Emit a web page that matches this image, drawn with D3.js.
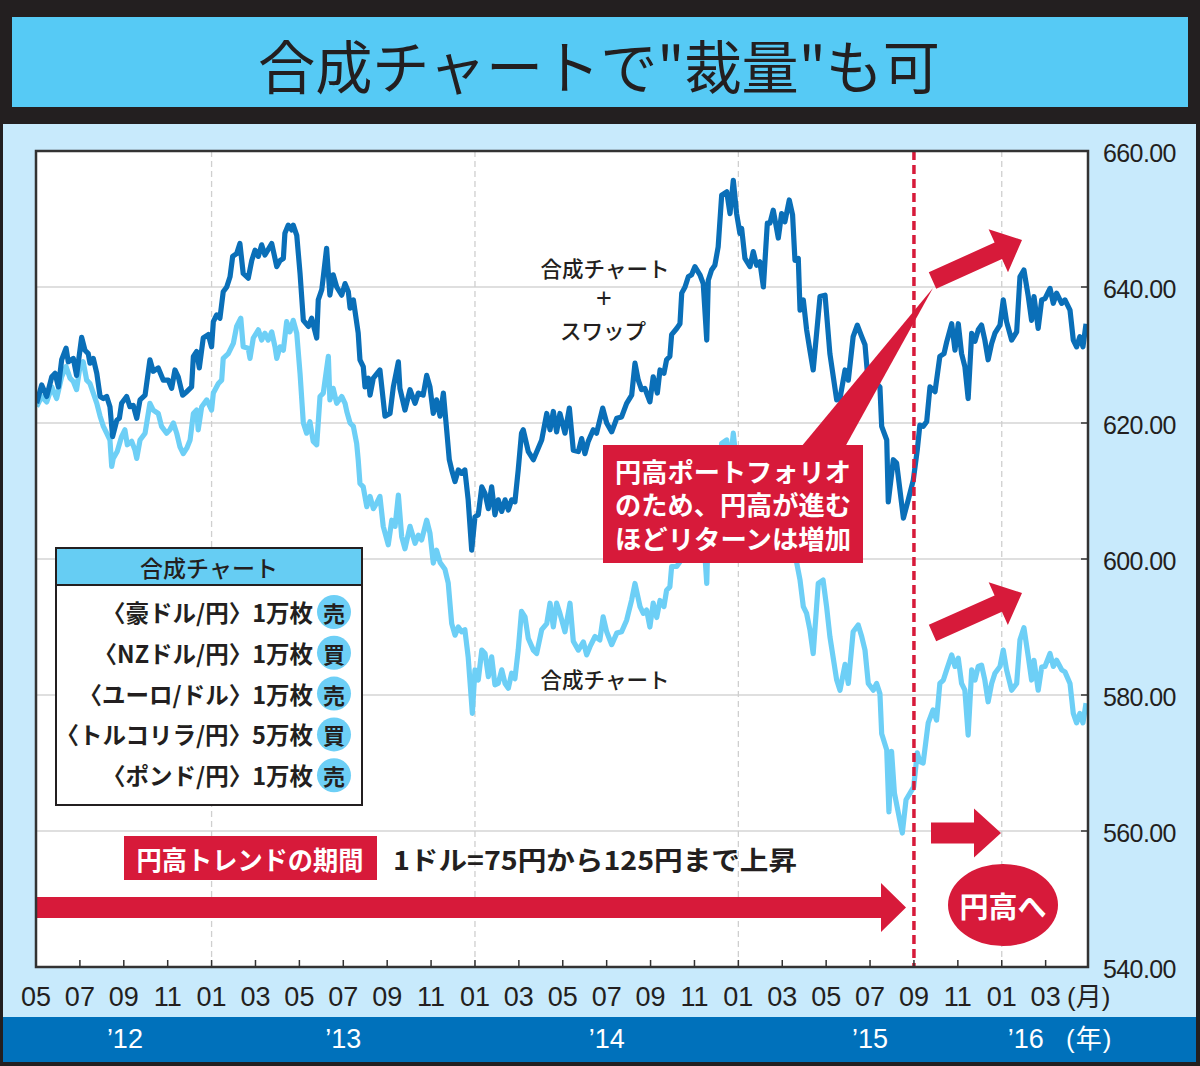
<!DOCTYPE html>
<html><head><meta charset="utf-8">
<script src="https://cdn.jsdelivr.net/npm/d3@7"></script>
<style>body{margin:0;background:#231f20}svg{display:block}</style>
</head><body>
<svg id="c" width="1200" height="1066"></svg>
<script>
// ---------- DATA ----------
const title = '合成チャートで"裁量"も可';
// x = months since May 2012 (0 = 2012-05)
const monthTicks = [0,2,4,6,8,10,12,14,16,18,20,22,24,26,28,30,32,34,36,38,40,42,44,46];
const monthLabels = ["05","07","09","11","01","03","05","07","09","11","01","03","05","07","09","11","01","03","05","07","09","11","01","03"];
const yearLabels = ["’12","’13","’14","’15","’16"];
const yearLabelMonths = [4.05,14,26,38,45.1];
const januaryMonths = [8,20,32,44];
const yTicks = [540,560,580,600,620,640,660];
const yTickLabels = ["540.00","560.00","580.00","600.00","620.00","640.00","660.00"];
const eventMonth = 40; // 2015-09

// 合成チャート＋スワップ (dark)
const darkMonths = [0.03,0.26,0.49,0.72,0.87,1.02,1.17,1.37,1.47,1.70,1.85,2.08,2.23,2.38,2.46,2.61,2.77,2.92,3.07,3.22,3.37,3.49,3.68,3.80,3.90,4.13,4.28,4.43,4.59,4.74,4.97,5.19,5.34,5.57,5.80,6.03,6.18,6.33,6.48,6.68,6.87,7.09,7.17,7.32,7.44,7.62,7.85,8.00,8.08,8.23,8.38,8.53,8.69,8.84,8.96,9.14,9.29,9.44,9.67,9.83,9.98,10.13,10.28,10.43,10.74,10.97,11.12,11.27,11.34,11.49,11.65,11.72,11.88,12.03,12.18,12.41,12.56,12.79,12.86,13.02,13.09,13.24,13.32,13.39,13.54,13.70,13.93,14.08,14.23,14.31,14.46,14.68,14.76,14.91,14.99,15.14,15.22,15.37,15.67,15.90,16.13,16.28,16.51,16.58,16.81,17.04,17.27,17.42,17.64,17.80,17.95,18.10,18.25,18.41,18.56,18.71,18.83,18.94,19.09,19.24,19.39,19.54,19.69,19.85,20.00,20.15,20.31,20.46,20.61,20.76,20.91,21.06,21.22,21.37,21.52,21.67,21.82,21.97,22.12,22.20,22.43,22.66,23.04,23.27,23.42,23.57,23.72,23.87,24.10,24.30,24.48,24.71,24.86,25.01,25.16,25.39,25.54,25.82,26.00,26.23,26.46,26.68,26.91,27.14,27.29,27.44,27.59,27.74,27.97,28.12,28.31,28.43,28.61,28.73,28.88,28.96,29.19,29.34,29.42,29.57,29.72,29.87,30.02,30.25,30.40,30.56,30.63,30.78,30.93,31.08,31.24,31.47,31.62,31.77,31.92,32.07,32.15,32.30,32.53,32.68,32.83,32.98,33.14,33.32,33.44,33.59,33.82,33.97,34.12,34.32,34.47,34.58,34.73,34.81,34.96,35.11,35.26,35.41,35.72,35.95,36.17,36.48,36.63,36.86,37.01,37.23,37.42,37.62,37.77,37.92,38.30,38.45,38.53,38.76,38.83,39.06,39.21,39.52,39.74,39.97,40.15,40.27,40.42,40.58,40.73,40.96,41.18,41.37,41.49,41.72,41.87,42.02,42.17,42.32,42.47,42.63,42.78,42.93,43.08,43.23,43.38,43.54,43.69,43.92,44.07,44.22,44.45,44.68,44.83,45.01,45.21,45.36,45.47,45.66,45.82,45.97,46.20,46.35,46.50,46.73,46.88,47.11,47.26,47.41,47.56,47.70,47.84];
const darkValues = [622.9,625.6,623.9,626.8,627.3,625.3,629.3,631,629,629.5,627,632.6,630.7,630.2,628.8,629.5,627.3,623.9,623.6,623.9,622.4,618,620.4,620.7,622.9,623.9,622.4,622.6,620.7,623.4,624.1,629.3,627.6,628.1,626.3,626.3,625.1,627.8,626.8,624.1,624.6,625.3,629.8,630.5,628.1,632.5,633,631.2,634.9,635.9,635.4,639.3,640,641.5,644.5,644.9,646.4,642,641.3,643.9,645.4,644.5,646.2,644.7,646.4,643,643.9,644.2,647.9,649.1,648.4,649.1,647.6,642,635.1,634.2,635.4,632.5,638.1,639.6,641.5,645.7,642,638.8,641.8,640,638.8,640.5,639.3,636.9,638.1,633.2,629.3,628.3,625.3,626.6,624.1,626.6,627.8,621,621.4,625.3,629,625.1,621.9,624.9,622.9,624.4,624.1,627,625.3,621.4,623.4,621,624.4,619,614.6,613.1,611.4,613.1,612.6,613.1,608.7,601.3,606.2,606.5,610.6,609.6,607.4,610.6,606.5,608.7,607,608.7,607.2,608.7,608.4,613.1,618.5,619,615.8,614.6,617.5,621.4,619,621.7,618.7,621.4,618.5,622.2,616,615.8,617.7,615.5,617.3,619,618.5,622.2,620,618.7,620.7,620.9,622.9,624.1,628.8,626.3,624.9,625.1,623.1,626.8,624.4,627.8,627.3,629.3,629.8,633,633.9,634.6,639.1,640,641.5,641.8,643,641.8,640.5,632.2,641,642.5,643.2,645.9,653.5,654,650.8,655.7,650.8,647.9,648.6,644.2,643,645.2,643.2,643.7,640,649.4,649.4,651.3,647.2,650.8,649.6,652.8,650.6,643.9,644.2,636.6,638.1,633.7,630.7,627.8,638.6,638.8,630.2,623.4,623.6,627.8,626.3,632.7,634.4,632.7,631.5,625.8,625.8,625.3,619.5,617.5,608.4,614.6,614.1,606,608.7,611.6,616,619.7,619.5,620.2,625.3,624.6,629.8,630.2,631.9,634.6,630.7,634.6,630.2,628.3,623.6,633.2,632,633.7,634.4,632.2,629.3,631.7,633.2,634.4,638.1,634.9,632.2,633.4,641.5,642.5,638.6,635.1,638.6,633.9,638.1,638.3,639.8,637.6,639.1,637.6,638.1,636.6,632.2,631.2,632.7,631.2,634.6];

// 合成チャート (light)
const lightMonths = [0.03,0.26,0.49,0.72,0.94,1.17,1.37,1.55,1.70,1.85,2.00,2.15,2.31,2.46,2.61,2.77,2.92,3.07,3.22,3.37,3.45,3.52,3.70,3.90,4.05,4.16,4.36,4.51,4.59,4.74,4.97,5.19,5.34,5.57,5.72,5.95,6.10,6.26,6.41,6.56,6.71,6.87,7.02,7.17,7.32,7.39,7.55,7.78,8.00,8.08,8.31,8.46,8.53,8.76,8.99,9.14,9.33,9.44,9.67,9.75,9.90,10.13,10.28,10.43,10.58,10.74,10.89,10.97,11.12,11.27,11.42,11.57,11.72,11.88,12.03,12.18,12.33,12.48,12.63,12.79,12.94,13.09,13.17,13.32,13.39,13.54,13.70,13.93,14.08,14.16,14.31,14.46,14.61,14.68,14.76,14.91,15.07,15.22,15.37,15.52,15.67,15.82,16.05,16.21,16.36,16.51,16.66,16.81,17.04,17.27,17.42,17.57,17.80,17.95,18.10,18.25,18.41,18.63,18.78,18.94,19.09,19.24,19.39,19.54,19.69,19.88,20.00,20.15,20.31,20.46,20.61,20.76,20.91,21.06,21.22,21.37,21.52,21.67,21.82,21.97,22.12,22.28,22.43,22.66,22.81,23.04,23.27,23.42,23.57,23.72,23.87,24.10,24.33,24.48,24.71,24.94,25.09,25.24,25.47,25.69,25.84,26.00,26.23,26.46,26.68,26.91,27.14,27.29,27.52,27.67,27.82,27.97,28.12,28.28,28.43,28.61,28.73,28.88,28.96,29.19,29.34,29.42,29.57,29.72,29.87,30.02,30.25,30.40,30.56,30.63,30.78,30.93,31.08,31.24,31.47,31.62,31.77,31.92,32.07,32.15,32.30,32.53,32.68,32.83,32.98,33.14,33.32,33.44,33.59,33.82,33.97,34.12,34.32,34.47,34.58,34.66,34.81,34.96,35.11,35.26,35.41,35.64,35.86,36.02,36.17,36.48,36.63,36.86,37.01,37.23,37.46,37.62,37.77,37.92,38.15,38.30,38.45,38.53,38.76,38.86,38.98,39.11,39.47,39.64,39.99,40.15,40.27,40.42,40.65,40.87,41.03,41.18,41.34,41.49,41.72,41.87,42.02,42.17,42.32,42.47,42.63,42.78,42.93,43.08,43.23,43.38,43.54,43.69,43.92,44.07,44.22,44.45,44.68,44.83,45.01,45.21,45.36,45.47,45.66,45.82,45.97,46.20,46.35,46.50,46.73,46.88,47.11,47.26,47.41,47.56,47.70,47.84];
const lightValues = [622.4,623.9,623.1,625.3,623.6,626.8,628.3,626.6,626.1,624.9,628.3,629,626.3,625.8,624.4,622.9,621,619.5,618.5,617.5,613.6,614.8,615.8,618,619,616.8,617.3,616,614.8,617.5,618.5,622.9,621.9,621.4,619.5,618.5,619,620,618.5,616.5,615.5,616.3,617.5,621.4,621.9,619,622.4,623.4,621.9,624.4,625.8,626.3,629.5,630.2,631.7,634.2,635.4,631.2,631,629.5,632.5,633.7,632.2,633.2,632.2,633.4,631.2,629.5,631.2,630.7,634.9,633.4,635.1,633.2,627.3,620,618.5,620.2,617.3,616.8,623.9,624.4,626.3,629.8,623.4,625.1,622.9,623.9,622.9,621.7,620,619.5,617,614.6,611.1,610.6,607.7,609.2,607.4,608.2,609.2,604.8,602.1,605.7,604.8,609.4,603.3,601.5,604.8,602.3,603.5,602.8,605.7,603.8,599.4,601.3,599.5,598.5,596.5,590.5,588.8,590,589.3,589.6,585.6,577.3,583.7,582.2,586.6,586.1,582.7,585.6,581.5,581.7,583.7,581.7,581,583.2,582.4,586.6,592.3,591.5,588.3,586.6,586.1,589.6,590.5,593.5,590,593.5,592,589.3,593.5,587.9,586.6,587.8,585.9,587.1,588.6,588.1,591.5,589.3,587.4,589.1,589.3,591,594,596.4,593,592,592.5,590,593.5,591.4,593.9,593,595.4,595.9,598.9,598.9,599.6,604.1,605,606,606.3,607.5,606.3,604.5,596.4,605,606.5,607.2,609.9,617,617.5,613.8,618.5,613.8,610.9,611.6,607,605.8,608,606,606.5,602.8,612.2,612,613.8,609.5,613,611.8,614.8,612.5,604,599.4,596.9,593,592,589.6,586.1,596.4,596.9,593,588.6,582.2,580.7,584.5,581.7,589.3,590.3,588.6,586.6,581.7,580.7,581.7,580.2,574.3,571.9,562.8,571.7,565.6,559.7,564.6,566.5,571.5,570.2,570,575.9,577.8,576.3,581.7,582.2,583.7,585.9,584.2,585.4,581.7,580.7,574.1,583.7,582.2,584.2,584.4,582.2,579,581.7,583.2,584.2,586.6,583.7,580.7,581.7,588.1,589.9,585.6,582.2,585.1,580.7,584.1,584.2,586.1,584.2,585.1,583.7,583.4,581.7,577.3,575.9,577.3,575.9,578.8];

const legendTitle = "合成チャート";
const legendPairs = ["〈豪ドル/円〉1万枚","〈NZドル/円〉1万枚","〈ユーロ/ドル〉1万枚","〈トルコリラ/円〉5万枚","〈ポンド/円〉1万枚"];
const legendSides = ["売","買","売","買","売"];
const boxLines = ["円高ポートフォリオ","のため、円高が進む","ほどリターンは増加"];

// ---------- DRAW ----------
const JP = "'Noto Sans CJK JP','Noto Sans',sans-serif";
const NUM = "'Liberation Sans Narrow','Liberation Sans',Arial,sans-serif";
const RED = "#d71a3a", DARK = "#0a6fb8", LIGHT = "#6dcff6", INK = "#231f20";
const svg = d3.select("#c");
const L = 36, R = 1088, T = 151, B = 967;
const x = d3.scaleLinear().domain([0, 47.93]).range([L, R]);
const y = d3.scaleLinear().domain([540, 660]).range([B, T]);

svg.append("rect").attr("width",1200).attr("height",1066).attr("fill",INK);
svg.append("rect").attr("x",12).attr("y",17).attr("width",1176).attr("height",90).attr("fill","#56caf5");
svg.append("text").attr("x",599).attr("y",64).attr("text-anchor","middle").attr("dominant-baseline","central")
  .attr("font-family",JP).attr("font-size",58).attr("fill",INK)
  .attr("textLength",682).attr("lengthAdjust","spacingAndGlyphs").text(title);
svg.append("rect").attr("x",3).attr("y",124).attr("width",1193).attr("height",893).attr("fill","#c8eafc");
svg.append("rect").attr("x",3).attr("y",1017).attr("width",1193).attr("height",45).attr("fill","#0071bb");
svg.append("rect").attr("x",L).attr("y",T).attr("width",R-L).attr("height",B-T).attr("fill","#fff");

// grid
svg.append("g").selectAll("line").data(yTicks.filter(v=>v>540&&v<660)).join("line")
  .attr("x1",L).attr("x2",R).attr("y1",d=>y(d)).attr("y2",d=>y(d))
  .attr("stroke","#d4d4d4").attr("stroke-width",1.5);
svg.append("g").selectAll("line").data(januaryMonths).join("line")
  .attr("x1",d=>x(d)).attr("x2",d=>x(d)).attr("y1",T).attr("y2",B)
  .attr("stroke","#cfcfcf").attr("stroke-width",1.3).attr("stroke-dasharray","6,4");

// lines
svg.append("clipPath").attr("id","pc").append("rect").attr("x",L).attr("y",T).attr("width",R-L).attr("height",B-T);
const line = d3.line().x(d=>x(d[0])).y(d=>y(d[1]));
const gL = svg.append("g").attr("clip-path","url(#pc)");
gL.append("path").datum(d3.zip(lightMonths, lightValues)).attr("d",line)
  .attr("fill","none").attr("stroke",LIGHT).attr("stroke-width",5.2).attr("stroke-linejoin","round");
gL.append("path").datum(d3.zip(darkMonths, darkValues)).attr("d",line)
  .attr("fill","none").attr("stroke",DARK).attr("stroke-width",5.2).attr("stroke-linejoin","round");

// event dashed line
svg.append("line").attr("x1",x(eventMonth)).attr("x2",x(eventMonth)).attr("y1",T).attr("y2",B)
  .attr("stroke",RED).attr("stroke-width",3.5).attr("stroke-dasharray","9,5");

// series labels
const lab = svg.append("g").attr("font-family",JP).attr("font-size",21.5).attr("font-weight",500).attr("fill",INK).attr("text-anchor","middle").attr("dominant-baseline","central");
lab.append("text").attr("x",605).attr("y",267).text("合成チャート");
lab.append("text").attr("x",604).attr("y",298).attr("font-family","'Liberation Sans',Arial,sans-serif").attr("font-size",27).text("+");
lab.append("text").attr("x",603).attr("y",329).text("スワップ");
lab.append("text").attr("x",605).attr("y",678).text("合成チャート");

// arrows
function arrow(x1,y1,x2,y2,sw,hw,hl){
  const dx=x2-x1, dy=y2-y1, len=Math.hypot(dx,dy), ux=dx/len, uy=dy/len, px=-uy, py=ux;
  const bx=x2-ux*hl, by=y2-uy*hl;
  const p=[[x1+px*sw/2,y1+py*sw/2],[bx+px*sw/2,by+py*sw/2],[bx+px*hw/2,by+py*hw/2],[x2,y2],
           [bx-px*hw/2,by-py*hw/2],[bx-px*sw/2,by-py*sw/2],[x1-px*sw/2,y1-py*sw/2]];
  svg.append("polygon").attr("points",p.map(q=>q.join(",")).join(" ")).attr("fill",RED);
}
arrow(932.5,280.5,1022,240,18,47,26);
arrow(932.5,633,1022,593,18,47,26);
arrow(931,833,1001,833,21,49,27);
arrow(36,907.5,906,907.5,21,49,25);

// callout
svg.append("polygon").attr("points","801,447 845,447 933,288").attr("fill",RED);
svg.append("rect").attr("x",603).attr("y",445).attr("width",260).attr("height",118).attr("fill",RED);
svg.append("g").selectAll("text").data(boxLines).join("text")
  .attr("x",733).attr("y",(d,i)=>470+i*33.5).attr("text-anchor","middle").attr("dominant-baseline","central")
  .attr("font-family",JP).attr("font-size",26).attr("font-weight",700).attr("fill","#fff")
  .attr("textLength",236).attr("lengthAdjust","spacingAndGlyphs").text(d=>d);

// trend box
svg.append("rect").attr("x",124).attr("y",836).attr("width",253).attr("height",44).attr("fill",RED);
svg.append("text").attr("x",250).attr("y",858.5).attr("text-anchor","middle").attr("dominant-baseline","central")
  .attr("font-family",JP).attr("font-size",26).attr("font-weight",700).attr("fill","#fff")
  .attr("textLength",227).attr("lengthAdjust","spacingAndGlyphs").text("円高トレンドの期間");
svg.append("text").attr("x",393).attr("y",858.5).attr("dominant-baseline","central")
  .attr("font-family",JP).attr("font-size",26).attr("font-weight",700).attr("fill",INK)
  .attr("textLength",404).attr("lengthAdjust","spacingAndGlyphs").text("1ドル=75円から125円まで上昇");

// ellipse
svg.append("ellipse").attr("cx",1003).attr("cy",905).attr("rx",55).attr("ry",41).attr("fill",RED);
svg.append("text").attr("x",1003).attr("y",905).attr("text-anchor","middle").attr("dominant-baseline","central")
  .attr("font-family",JP).attr("font-size",29).attr("font-weight",700).attr("fill","#fff").text("円高へ");

// legend
const lg = svg.append("g");
lg.append("rect").attr("x",56).attr("y",548).attr("width",306).attr("height",257).attr("fill","#fff").attr("stroke",INK).attr("stroke-width",2);
lg.append("rect").attr("x",56).attr("y",548).attr("width",306).attr("height",37).attr("fill","#66cdf3").attr("stroke",INK).attr("stroke-width",2);
lg.append("text").attr("x",209).attr("y",567).attr("text-anchor","middle").attr("dominant-baseline","central")
  .attr("font-family",JP).attr("font-size",23).attr("font-weight",500).attr("fill",INK).text(legendTitle);
const rows = lg.selectAll("g.row").data(legendPairs).join("g").attr("class","row")
  .attr("transform",(d,i)=>`translate(0,${612+i*40.8})`);
rows.append("text").attr("x",313).attr("text-anchor","end").attr("dominant-baseline","central")
  .attr("font-family",JP).attr("font-size",23.5).attr("font-weight",600).attr("fill",INK).text(d=>d);
rows.append("circle").attr("cx",334).attr("r",17).attr("fill",LIGHT);
rows.append("text").attr("x",334).attr("text-anchor","middle").attr("dominant-baseline","central")
  .attr("font-family",JP).attr("font-size",22).attr("font-weight",600).attr("fill",INK).text((d,i)=>legendSides[i]);

// frame & ticks
svg.append("rect").attr("x",L).attr("y",T).attr("width",R-L).attr("height",B-T).attr("fill","none").attr("stroke","#333").attr("stroke-width",2.5);
svg.append("g").selectAll("line").data(monthTicks).join("line")
  .attr("x1",d=>x(d)).attr("x2",d=>x(d)).attr("y1",B).attr("y2",B-7).attr("stroke","#333").attr("stroke-width",1.5);
svg.append("g").selectAll("line").data(yTicks).join("line")
  .attr("x1",R).attr("x2",R-7).attr("y1",d=>y(d)).attr("y2",d=>y(d)).attr("stroke","#333").attr("stroke-width",1.5);

// axis labels
svg.append("g").selectAll("text").data(monthTicks).join("text")
  .attr("x",d=>x(d)).attr("y",997).attr("text-anchor","middle").attr("dominant-baseline","central")
  .attr("font-family",NUM).attr("font-size",27).attr("fill",INK).text((d,i)=>monthLabels[i]);
svg.append("text").attr("x",1067).attr("y",997).attr("dominant-baseline","central")
  .attr("font-family",NUM+","+JP).attr("font-size",26).attr("fill",INK).text("(月)");
svg.append("g").selectAll("text").data(yTicks).join("text")
  .attr("x",1103).attr("y",d=>y(d)+2).attr("dominant-baseline","central")
  .attr("font-family","'Liberation Sans',Arial,sans-serif").attr("font-size",25).attr("letter-spacing",-0.6).attr("fill",INK)
  .text((d,i)=>yTickLabels[i]);
svg.append("g").selectAll("text").data(yearLabelMonths).join("text")
  .attr("x",d=>x(d)).attr("y",1039).attr("text-anchor","middle").attr("dominant-baseline","central")
  .attr("font-family",NUM).attr("font-size",27).attr("fill","#fff").text((d,i)=>yearLabels[i]);
svg.append("text").attr("x",1066).attr("y",1039).attr("dominant-baseline","central")
  .attr("font-family",NUM+","+JP).attr("font-size",26).attr("letter-spacing",1).attr("fill","#fff").text("(年)");
</script>
</body></html>
